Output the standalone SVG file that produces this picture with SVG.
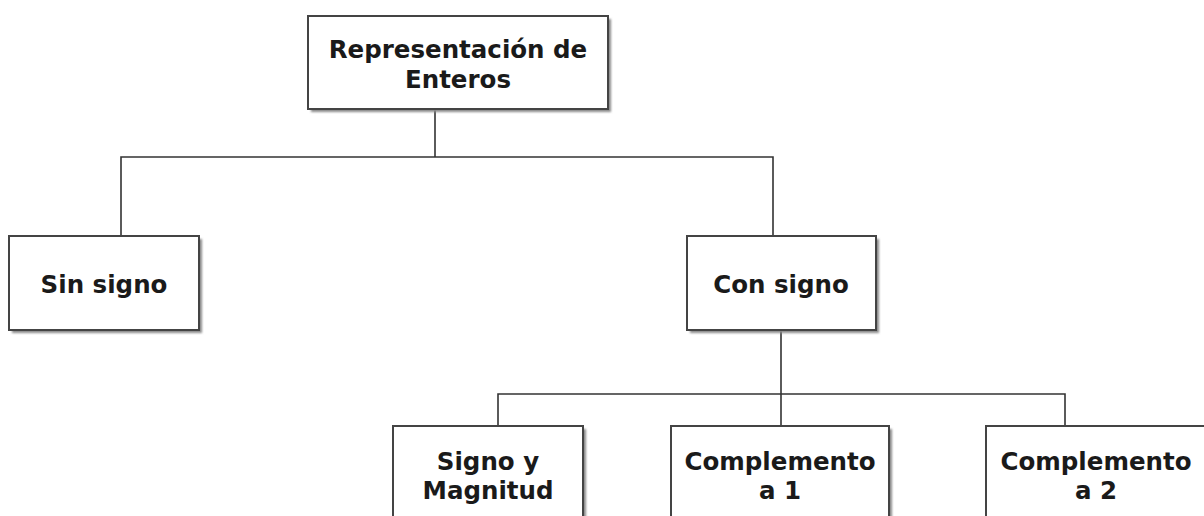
<svg xmlns="http://www.w3.org/2000/svg" width="1204" height="516" viewBox="0 0 1204 516">
  <defs>
    <filter id="sh" x="-10%" y="-10%" width="130%" height="130%">
      <feGaussianBlur stdDeviation="1.2"/>
    </filter>
  </defs>
  <style>
    .box { fill: #ffffff; stroke: #444444; stroke-width: 2; }
    .shadow { fill: #8a8a8a; filter: url(#sh); }
    .lbl { font-family: "DejaVu Sans", Verdana, sans-serif; font-weight: bold; font-size: 24.5px; fill: #1a1a1a; text-anchor: middle; }
    .conn { fill: none; stroke: #333333; stroke-width: 1.6; }
  </style>
  <rect width="1204" height="516" fill="#ffffff"/>

  <g id="connectors">
    <path class="conn" d="M435,109 V157"/>
    <path class="conn" d="M121,236 V157 H773 V236"/>
    <path class="conn" d="M781,330 V426"/>
    <path class="conn" d="M498,426 V394 H1065 V426"/>
  </g>

  <g id="node-root">
    <rect class="shadow" x="311" y="19" width="300" height="93"/>
    <rect class="box" x="308" y="16" width="300" height="93"/>
    <text class="lbl" x="458" y="58">Representación de</text>
    <text class="lbl" x="458" y="88">Enteros</text>
  </g>

  <g id="node-sin-signo">
    <rect class="shadow" x="12" y="239" width="190" height="94"/>
    <rect class="box" x="9" y="236" width="190" height="94"/>
    <text class="lbl" x="104" y="293">Sin signo</text>
  </g>

  <g id="node-con-signo">
    <rect class="shadow" x="690" y="239" width="189" height="94"/>
    <rect class="box" x="687" y="236" width="189" height="94"/>
    <text class="lbl" x="781" y="293">Con signo</text>
  </g>

  <g id="node-signo-magnitud">
    <rect class="shadow" x="396" y="429" width="190" height="100"/>
    <rect class="box" x="393" y="426" width="190" height="100"/>
    <text class="lbl" x="488" y="470">Signo y</text>
    <text class="lbl" x="488" y="499">Magnitud</text>
  </g>

  <g id="node-complemento-1">
    <rect class="shadow" x="674" y="429" width="218" height="100"/>
    <rect class="box" x="671" y="426" width="218" height="100"/>
    <text class="lbl" x="780" y="470">Complemento</text>
    <text class="lbl" x="780" y="499">a 1</text>
  </g>

  <g id="node-complemento-2">
    <rect class="shadow" x="989" y="429" width="221" height="100"/>
    <rect class="box" x="986" y="426" width="221" height="100"/>
    <text class="lbl" x="1096" y="470">Complemento</text>
    <text class="lbl" x="1096" y="499">a 2</text>
  </g>
</svg>
